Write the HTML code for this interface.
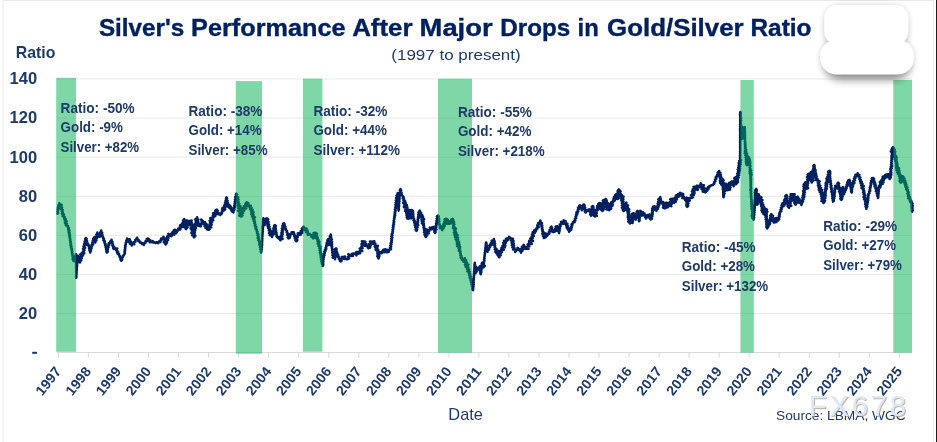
<!DOCTYPE html>
<html><head><meta charset="utf-8"><title>Silver's Performance After Major Drops in Gold/Silver Ratio</title>
<style>
html,body{margin:0;padding:0;background:#fff;}
body{width:937px;height:442px;overflow:hidden;font-family:"Liberation Sans",sans-serif;}
svg{display:block;font-family:"Liberation Sans",sans-serif;}
</style></head><body>
<svg width="937" height="442" viewBox="0 0 937 442">
<defs>
<filter id="sh" x="-30%" y="-30%" width="160%" height="170%"><feGaussianBlur in="SourceAlpha" stdDeviation="3" result="a0"/><feComponentTransfer in="a0" result="a"><feFuncA type="linear" slope="0.15"/></feComponentTransfer><feMerge><feMergeNode in="a"/><feMergeNode in="SourceGraphic"/></feMerge></filter>
<filter id="soft" x="-5%" y="-5%" width="110%" height="110%"><feGaussianBlur stdDeviation="0.35"/></filter>
<filter id="sb" x="-30%" y="-30%" width="160%" height="180%"><feGaussianBlur stdDeviation="4"/></filter>
</defs>
<rect x="0" y="0" width="937" height="442" fill="#ffffff"/>
<!-- frame -->
<rect x="2.6" y="0" width="931.4" height="1" fill="#e9e9e9"/>
<rect x="2.5" y="0" width="1.2" height="442" fill="#efefef"/>
<rect x="933" y="0" width="1" height="442" fill="#ececec"/>
<rect x="936" y="0" width="1" height="442" fill="#1e1e1e"/>
<!-- grid -->
<line x1="57" x2="912" y1="313.5" y2="313.5" stroke="#e9e9e9" stroke-width="1"/>
<line x1="57" x2="912" y1="274.4" y2="274.4" stroke="#e9e9e9" stroke-width="1"/>
<line x1="57" x2="912" y1="235.4" y2="235.4" stroke="#e9e9e9" stroke-width="1"/>
<line x1="57" x2="912" y1="196.3" y2="196.3" stroke="#e9e9e9" stroke-width="1"/>
<line x1="57" x2="912" y1="157.2" y2="157.2" stroke="#e9e9e9" stroke-width="1"/>
<line x1="57" x2="912" y1="118.1" y2="118.1" stroke="#e9e9e9" stroke-width="1"/>
<line x1="57" x2="912" y1="79.0" y2="79.0" stroke="#e9e9e9" stroke-width="1"/>
<line x1="57" x2="912" y1="352.5" y2="352.5" stroke="#d9d9d9" stroke-width="1"/>
<line x1="58.4" x2="58.4" y1="352" y2="357.5" stroke="#d9d9d9" stroke-width="1"/>
<line x1="88.4" x2="88.4" y1="352" y2="357.5" stroke="#d9d9d9" stroke-width="1"/>
<line x1="118.5" x2="118.5" y1="352" y2="357.5" stroke="#d9d9d9" stroke-width="1"/>
<line x1="148.5" x2="148.5" y1="352" y2="357.5" stroke="#d9d9d9" stroke-width="1"/>
<line x1="178.5" x2="178.5" y1="352" y2="357.5" stroke="#d9d9d9" stroke-width="1"/>
<line x1="208.6" x2="208.6" y1="352" y2="357.5" stroke="#d9d9d9" stroke-width="1"/>
<line x1="238.6" x2="238.6" y1="352" y2="357.5" stroke="#d9d9d9" stroke-width="1"/>
<line x1="268.6" x2="268.6" y1="352" y2="357.5" stroke="#d9d9d9" stroke-width="1"/>
<line x1="298.7" x2="298.7" y1="352" y2="357.5" stroke="#d9d9d9" stroke-width="1"/>
<line x1="328.7" x2="328.7" y1="352" y2="357.5" stroke="#d9d9d9" stroke-width="1"/>
<line x1="358.8" x2="358.8" y1="352" y2="357.5" stroke="#d9d9d9" stroke-width="1"/>
<line x1="388.8" x2="388.8" y1="352" y2="357.5" stroke="#d9d9d9" stroke-width="1"/>
<line x1="418.8" x2="418.8" y1="352" y2="357.5" stroke="#d9d9d9" stroke-width="1"/>
<line x1="448.9" x2="448.9" y1="352" y2="357.5" stroke="#d9d9d9" stroke-width="1"/>
<line x1="478.9" x2="478.9" y1="352" y2="357.5" stroke="#d9d9d9" stroke-width="1"/>
<line x1="508.9" x2="508.9" y1="352" y2="357.5" stroke="#d9d9d9" stroke-width="1"/>
<line x1="539.0" x2="539.0" y1="352" y2="357.5" stroke="#d9d9d9" stroke-width="1"/>
<line x1="569.0" x2="569.0" y1="352" y2="357.5" stroke="#d9d9d9" stroke-width="1"/>
<line x1="599.0" x2="599.0" y1="352" y2="357.5" stroke="#d9d9d9" stroke-width="1"/>
<line x1="629.1" x2="629.1" y1="352" y2="357.5" stroke="#d9d9d9" stroke-width="1"/>
<line x1="659.1" x2="659.1" y1="352" y2="357.5" stroke="#d9d9d9" stroke-width="1"/>
<line x1="689.1" x2="689.1" y1="352" y2="357.5" stroke="#d9d9d9" stroke-width="1"/>
<line x1="719.2" x2="719.2" y1="352" y2="357.5" stroke="#d9d9d9" stroke-width="1"/>
<line x1="749.2" x2="749.2" y1="352" y2="357.5" stroke="#d9d9d9" stroke-width="1"/>
<line x1="779.2" x2="779.2" y1="352" y2="357.5" stroke="#d9d9d9" stroke-width="1"/>
<line x1="809.3" x2="809.3" y1="352" y2="357.5" stroke="#d9d9d9" stroke-width="1"/>
<line x1="839.3" x2="839.3" y1="352" y2="357.5" stroke="#d9d9d9" stroke-width="1"/>
<line x1="869.3" x2="869.3" y1="352" y2="357.5" stroke="#d9d9d9" stroke-width="1"/>
<line x1="899.4" x2="899.4" y1="352" y2="357.5" stroke="#d9d9d9" stroke-width="1"/>

<!-- series -->
<path d="M57.6,213.6 L58.21,212.59 L57.55,211.44 L58.17,210.42 L57.71,209.29 L58.46,208.3 L57.99,207.17 L58.86,206.3 L58.42,205.13 L59.54,204.39 L59.4,203.3 L59.96,204.48 L61.65,204.87 L60.74,206.64 L62.0,207.57 L60.81,209.03 L62.67,209.83 L61.86,211.27 L62.83,212.31 L62.0,213.76 L63.87,214.56 L62.77,216.2 L64.74,216.91 L64.28,218.68 L65.68,219.08 L64.73,220.5 L66.48,221.27 L65.01,222.82 L66.81,223.63 L65.74,225.27 L67.97,225.9 L67.84,227.42 L68.84,228.14 L68.27,229.49 L69.45,230.42 L68.54,231.86 L69.53,232.73 L68.97,233.85 L69.92,234.81 L69.34,235.94 L70.0,236.93 L69.69,238.02 L70.24,239.18 L70.05,240.43 L70.66,241.57 L70.39,242.84 L71.06,243.96 L70.51,245.27 L71.37,246.39 L71.06,247.68 L71.94,248.79 L71.51,250.1 L72.18,251.24 L71.93,252.53 L72.51,253.54 L72.18,254.73 L73.35,255.62 L72.59,256.9 L73.6,257.82 L72.69,259.16 L75.03,259.26 L73.53,260.91 L75.61,261.15 L75.67,260.33 L75.29,259.07 L75.94,257.93 L75.57,256.67 L76.43,255.55 L76.1,254.3 L75.96,255.48 L76.2,256.65 L76.0,257.83 L76.2,259.0 L76.0,260.18 L76.22,261.35 L76.05,262.53 L76.22,263.7 L76.09,264.88 L76.29,266.05 L76.06,267.23 L76.21,268.4 L76.11,269.58 L76.22,270.75 L76.15,271.93 L76.25,273.1 L76.15,274.28 L76.22,275.45 L76.12,276.63 L76.2,277.8 L76.4,276.69 L76.28,275.57 L76.45,274.46 L76.43,273.34 L76.64,272.23 L76.46,271.1 L76.8,270.0 L76.6,268.87 L76.89,267.77 L76.81,266.64 L77.13,265.54 L76.81,264.4 L77.25,263.31 L77.05,262.07 L77.74,260.94 L77.32,259.66 L78.06,258.54 L77.73,257.27 L78.1,256.1 L78.68,257.15 L78.07,258.45 L79.2,259.39 L78.03,260.79 L80.38,261.01 L80.0,262.4 L78.97,261.14 L81.18,260.44 L80.11,259.17 L81.79,258.38 L79.97,256.99 L82.35,256.32 L80.22,254.32 L83.09,254.85 L81.89,252.87 L84.27,253.1 L83.07,251.22 L84.36,250.17 L83.12,248.74 L85.08,247.79 L83.53,246.31 L84.71,245.25 L84.11,243.9 L85.59,242.94 L84.71,241.52 L85.78,240.49 L85.2,239.13 L85.8,238.0 L86.63,238.96 L85.77,240.26 L87.04,241.12 L85.87,242.48 L87.64,243.25 L86.64,244.79 L88.65,244.8 L88.78,246.55 L89.62,247.19 L89.14,248.36 L90.08,249.28 L89.41,250.47 L90.54,251.36 L90.2,252.5 L90.15,251.36 L90.92,250.4 L90.63,249.21 L91.55,248.28 L91.07,247.05 L91.91,246.26 L91.52,245.03 L93.1,244.57 L92.22,243.15 L93.26,242.22 L92.74,241.01 L93.49,240.03 L93.1,238.85 L94.14,238.11 L94.5,237.1 L94.42,238.21 L95.09,239.22 L94.71,240.37 L95.58,241.35 L95.2,242.5 L95.33,241.23 L96.42,240.25 L95.96,238.8 L97.03,237.95 L96.04,236.69 L97.52,235.87 L96.46,234.6 L97.52,233.7 L97.4,232.6 L97.41,233.91 L98.77,234.8 L98.27,236.27 L99.94,236.68 L100.4,236.14 L99.43,234.82 L100.58,233.92 L100.26,232.74 L100.91,231.74 L101.18,230.63 L101.26,231.95 L102.22,232.88 L101.59,234.14 L102.52,235.07 L102.24,236.25 L103.08,237.01 L102.97,238.11 L103.97,238.75 L103.37,240.28 L104.73,241.18 L104.35,242.61 L105.44,243.62 L105.03,245.06 L106.22,246.06 L105.63,247.29 L106.3,248.26 L106.05,249.38 L106.87,250.32 L106.41,251.49 L106.8,252.5 L107.81,251.58 L106.9,250.27 L107.88,249.35 L107.3,248.1 L108.56,247.23 L107.46,245.63 L109.27,244.82 L108.67,243.3 L110.33,242.79 L110.2,241.41 L111.39,240.89 L111.5,239.8 L111.46,241.0 L112.52,241.93 L111.87,243.29 L113.02,244.2 L112.38,245.57 L113.6,246.49 L113.07,247.83 L113.7,248.9 L114.48,248.14 L113.93,246.57 L115.22,248.83 L117.25,248.5 L115.94,250.08 L117.24,250.6 L116.87,251.8 L118.22,252.3 L117.45,253.66 L119.02,254.07 L118.91,255.31 L119.87,255.96 L119.74,257.28 L121.04,258.06 L120.48,259.54 L121.3,260.6 L122.17,259.55 L121.55,258.05 L122.85,257.14 L122.75,255.98 L123.7,255.32 L124.4,254.06 L124.9,253.23 L124.52,252.1 L125.03,251.05 L124.74,249.93 L125.25,248.88 L125.02,247.77 L125.47,246.71 L125.09,245.58 L125.78,244.46 L125.67,243.17 L126.47,242.12 L126.32,240.82 L127.01,239.74 L127.1,238.5 L127.61,239.73 L129.77,239.39 L128.63,241.74 L131.03,241.59 L129.87,243.65 L131.93,243.16 L131.69,245.46 L133.0,243.4 L134.26,244.24 L133.74,242.32 L135.45,241.62 L135.17,240.17 L136.18,239.21 L136.94,237.74 L137.38,239.06 L138.47,239.77 L138.33,241.17 L139.89,241.55 L140.37,242.84 L141.82,242.72 L142.22,244.07 L143.37,243.77 L143.95,244.81 L144.12,243.07 L145.62,242.67 L145.52,241.26 L147.45,241.06 L146.59,239.25 L147.6,238.5 L148.68,238.94 L148.18,240.56 L150.3,240.22 L149.82,242.23 L151.44,241.75 L152.21,242.27 L152.77,241.14 L153.63,242.33 L154.82,242.4 L155.6,243.07 L156.5,242.22 L158.2,243.19 L158.83,241.61 L160.32,242.03 L160.26,240.45 L161.5,240.12 L161.12,238.59 L163.2,238.35 L163.5,236.8 L163.49,237.94 L164.74,238.55 L164.25,239.89 L165.58,240.75 L163.97,242.28 L166.71,242.97 L165.6,244.4 L165.0,242.89 L166.91,242.24 L166.03,240.64 L168.02,240.09 L166.32,238.5 L168.41,237.92 L167.23,236.48 L169.34,235.9 L168.32,233.84 L170.33,234.89 L171.3,233.51 L171.39,236.23 L172.33,233.94 L174.09,234.64 L172.48,232.39 L174.79,231.95 L173.68,230.51 L174.7,229.7 L176.23,230.48 L174.55,232.36 L175.9,233.2 L176.7,232.15 L176.58,230.63 L178.37,230.39 L178.28,228.61 L180.31,229.41 L179.9,226.85 L182.08,227.1 L180.22,225.16 L182.9,224.78 L183.34,225.19 L184.11,224.7 L182.37,223.26 L184.15,222.47 L183.1,221.16 L184.61,220.31 L184.1,219.1 L183.28,220.37 L185.31,221.12 L183.48,222.58 L185.54,223.31 L184.29,224.67 L186.33,225.41 L183.86,227.05 L187.04,227.7 L185.9,229.1 L185.25,227.57 L187.63,227.09 L185.63,225.1 L188.46,224.68 L186.73,223.03 L189.45,222.43 L186.32,220.46 L189.84,221.17 L191.62,220.51 L189.48,222.53 L191.72,222.74 L189.31,224.7 L192.82,224.84 L190.64,226.59 L193.46,226.93 L190.76,228.71 L193.16,229.28 L191.81,230.66 L193.23,231.44 L191.43,232.91 L193.96,233.63 L192.26,235.24 L195.35,235.85 L193.9,237.4 L193.76,236.17 L194.9,235.12 L194.08,233.79 L194.79,232.69 L194.3,231.41 L195.23,230.33 L194.87,229.07 L195.86,228.02 L194.49,226.61 L196.27,225.7 L194.77,224.27 L196.84,223.4 L195.68,222.02 L197.74,221.18 L195.16,219.46 L197.31,218.66 L197.1,217.4 L196.66,218.64 L198.23,219.61 L197.12,220.94 L198.29,221.96 L197.08,223.31 L199.17,223.85 L197.79,225.56 L199.59,226.01 L200.86,226.26 L200.82,224.21 L202.34,223.47 L201.59,222.01 L203.52,221.64 L201.1,219.62 L203.36,222.24 L205.06,222.23 L203.59,223.97 L206.43,223.93 L204.69,226.11 L207.81,225.33 L205.74,227.9 L208.14,227.55 L207.23,229.45 L208.8,229.7 L209.71,228.95 L208.91,227.48 L211.25,227.32 L209.38,225.44 L211.58,224.66 L209.86,223.08 L211.97,222.29 L209.73,220.6 L213.27,220.31 L210.3,217.99 L213.42,217.75 L212.88,215.63 L215.31,216.11 L213.11,213.34 L216.18,214.09 L215.04,212.02 L216.97,211.86 L215.43,210.39 L216.7,209.7 L217.66,210.7 L216.67,212.2 L218.6,212.94 L218.24,214.19 L219.76,213.86 L220.3,215.0 L221.2,213.94 L221.89,213.49 L221.51,212.26 L222.54,211.45 L222.09,210.21 L223.28,209.51 L222.33,208.16 L223.3,207.4 L224.46,208.12 L222.96,209.58 L224.1,210.3 L225.18,209.29 L224.12,207.85 L225.15,206.83 L224.3,205.42 L225.61,204.46 L225.01,203.15 L225.86,202.09 L225.57,200.84 L226.24,199.76 L226.04,198.52 L226.5,197.4 L227.06,198.51 L226.19,199.87 L227.53,200.85 L226.72,202.2 L227.82,203.06 L226.74,204.37 L228.93,204.97 L227.02,206.46 L230.33,205.97 L229.4,207.9 L228.82,206.98 L230.3,206.12 L228.91,204.65 L229.7,206.56 L231.37,207.42 L230.73,209.02 L231.88,209.71 L231.56,210.94 L232.6,211.65 L233.4,212.34 L233.43,210.54 L234.39,209.5 L233.9,208.13 L234.87,207.08 L234.3,205.88 L234.84,204.84 L234.57,203.71 L235.22,202.69 L234.8,201.54 L235.39,200.51 L235.16,199.39 L235.78,198.31 L235.23,197.02 L236.53,196.09 L235.88,194.78 L236.4,193.7 L237.07,194.88 L236.42,196.34 L238.13,197.3 L236.57,198.75 L238.43,199.59 L236.68,201.03 L238.6,201.86 L237.55,203.18 L239.3,204.04 L237.49,205.63 L240.4,206.19 L238.1,207.97 L241.11,208.5 L237.99,210.74 L241.13,211.14 L239.55,213.03 L241.57,213.83 L239.18,215.58 L241.3,216.5 L242.3,215.46 L240.6,213.96 L243.05,213.17 L241.11,211.63 L243.85,210.96 L241.38,208.79 L243.3,208.0 L245.16,208.19 L244.4,209.9 L243.83,208.58 L246.23,208.38 L243.93,206.41 L247.28,206.2 L245.4,204.47 L247.86,203.85 L246.7,202.3 L245.61,203.8 L248.45,203.77 L246.97,205.43 L248.1,203.0 L248.16,205.96 L250.8,205.7 L249.82,207.29 L251.49,207.71 L250.16,209.31 L252.55,209.87 L251.21,211.68 L253.51,212.35 L251.36,214.2 L253.66,214.94 L252.11,216.56 L254.92,217.17 L253.07,218.78 L254.37,219.7 L253.68,221.03 L255.02,221.94 L254.31,223.28 L255.46,224.35 L254.86,225.9 L256.28,226.86 L255.48,228.46 L256.85,229.44 L256.64,230.87 L257.48,231.9 L257.05,233.26 L258.31,234.19 L257.73,235.59 L258.59,236.59 L257.76,237.93 L259.02,238.87 L258.38,240.18 L259.74,241.09 L259.22,242.39 L259.96,243.42 L259.31,244.75 L260.78,245.63 L259.91,247.0 L261.05,247.98 L260.35,249.22 L261.15,250.28 L260.72,251.49 L261.1,252.6 L261.39,251.53 L261.17,250.41 L261.71,249.37 L261.38,248.24 L261.87,247.19 L261.48,246.05 L262.15,245.03 L261.82,243.88 L262.13,242.79 L261.93,241.67 L262.23,240.57 L262.1,239.45 L262.33,238.35 L262.05,237.23 L262.48,236.14 L262.15,235.01 L262.58,233.92 L262.43,232.8 L262.82,231.71 L262.51,230.58 L262.89,229.49 L262.54,228.36 L263.0,227.27 L262.72,226.15 L263.15,225.06 L262.93,223.93 L263.4,222.85 L262.93,221.71 L263.44,220.63 L263.25,219.5 L263.4,218.4 L264.02,219.45 L263.42,220.69 L264.2,221.71 L263.58,222.96 L264.79,223.91 L264.5,225.1 L263.87,223.51 L265.94,222.77 L264.8,221.02 L266.67,220.56 L265.46,219.0 L266.8,218.4 L268.14,219.37 L266.95,221.14 L268.58,222.02 L266.79,223.62 L268.99,224.37 L267.5,225.84 L269.52,226.64 L268.05,228.1 L270.14,228.93 L268.84,230.49 L271.2,231.21 L269.08,232.96 L271.16,233.39 L269.74,235.11 L272.25,235.14 L272.07,236.98 L271.66,235.02 L273.71,234.25 L272.47,232.67 L274.97,232.02 L273.12,230.47 L274.89,229.64 L273.42,228.26 L275.36,227.45 L274.08,226.11 L274.8,225.1 L275.87,226.04 L274.82,227.37 L275.79,228.33 L275.32,229.55 L276.08,230.55 L275.75,231.75 L276.52,232.78 L276.23,234.02 L276.87,235.08 L276.55,236.32 L277.39,237.34 L278.67,237.07 L279.42,237.06 L278.91,238.71 L280.88,238.81 L280.5,240.3 L279.41,238.72 L282.57,238.89 L280.98,237.1 L282.18,236.35 L281.26,235.17 L282.71,234.21 L281.45,233.0 L282.79,232.03 L281.81,230.84 L282.9,229.85 L281.92,228.51 L283.27,227.53 L282.45,226.18 L283.99,225.24 L282.95,223.93 L283.9,223.2 L284.57,224.28 L284.26,225.61 L285.36,226.58 L284.36,228.09 L285.92,228.69 L285.81,230.03 L287.03,230.93 L286.73,232.42 L287.84,233.46 L287.26,234.9 L288.53,235.87 L287.82,237.29 L288.5,238.4 L289.7,237.83 L289.38,236.38 L290.45,235.72 L290.02,234.41 L291.18,233.76 L291.67,232.41 L293.49,232.17 L293.87,232.51 L293.17,233.89 L294.53,234.48 L294.11,236.0 L295.23,237.05 L294.81,238.54 L296.1,239.16 L295.53,240.51 L296.5,241.2 L297.32,240.04 L296.03,238.49 L297.61,237.48 L296.73,235.86 L298.75,235.1 L297.81,233.41 L299.85,233.13 L301.13,233.0 L300.7,234.6 L300.47,233.2 L302.28,232.98 L300.81,231.04 L303.18,230.35 L301.94,228.62 L304.16,228.37 L303.53,226.64 L304.59,228.65 L306.46,228.51 L304.99,230.25 L307.46,230.36 L306.09,232.25 L308.01,232.4 L307.78,234.83 L310.19,234.17 L310.9,235.13 L311.85,235.33 L311.44,236.92 L313.16,237.16 L313.2,238.4 L312.28,236.89 L315.38,237.04 L313.04,234.94 L316.13,235.1 L313.54,233.01 L315.5,232.7 L316.85,233.74 L314.96,235.46 L317.13,236.32 L315.62,237.84 L317.66,238.12 L317.02,239.45 L318.46,240.0 L317.56,241.45 L319.42,241.85 L317.78,243.64 L319.5,244.45 L318.49,245.96 L320.52,246.69 L319.41,248.09 L320.68,249.03 L319.62,250.35 L320.77,251.31 L319.91,252.6 L321.14,253.54 L320.47,254.8 L321.92,255.67 L320.63,257.04 L322.21,257.89 L321.03,259.24 L322.73,260.07 L321.28,261.45 L323.04,262.39 L321.95,263.68 L323.21,264.68 L322.7,265.9 L322.58,264.79 L323.17,263.75 L322.77,262.61 L323.33,261.58 L322.97,260.44 L323.5,259.4 L323.24,258.27 L323.89,257.23 L323.65,256.06 L324.53,255.08 L323.85,253.84 L324.78,252.86 L324.31,251.65 L325.45,250.92 L324.99,249.6 L326.23,248.98 L325.72,247.6 L326.46,246.56 L326.28,245.35 L327.1,244.32 L326.62,243.05 L327.81,241.99 L327.33,240.48 L328.0,239.3 L328.54,240.39 L327.86,241.64 L328.71,242.69 L328.4,243.89 L328.8,245.0 L329.34,243.97 L328.91,242.8 L329.59,241.79 L329.0,240.59 L329.96,239.62 L329.5,238.45 L330.14,237.43 L329.86,236.38 L330.95,235.68 L330.7,234.6 L330.26,235.87 L331.19,237.0 L330.65,238.28 L331.82,239.4 L330.58,240.74 L332.07,241.82 L331.14,243.13 L332.12,244.23 L331.2,245.54 L332.17,246.63 L331.82,247.88 L332.41,249.01 L332.12,250.25 L332.67,251.39 L332.27,252.64 L333.41,253.68 L332.41,255.17 L334.13,256.04 L332.79,257.61 L334.85,258.02 L335.1,259.3 L334.97,258.19 L335.32,257.08 L334.85,255.97 L335.22,254.86 L334.91,253.74 L335.25,252.63 L334.98,251.52 L335.42,250.41 L334.96,249.3 L336.02,248.36 L336.54,249.08 L335.7,250.35 L336.71,251.19 L336.21,252.39 L337.43,253.18 L336.95,254.47 L338.2,255.17 L337.57,256.61 L339.02,257.23 L338.82,258.78 L340.33,259.23 L339.8,260.62 L340.6,261.5 L341.57,260.69 L340.87,259.23 L342.27,258.58 L341.85,257.07 L343.74,256.84 L344.94,256.57 L344.07,258.9 L346.33,258.9 L347.4,259.24 L348.79,258.34 L349.03,258.35 L347.98,256.78 L349.72,255.87 L348.35,254.22 L349.92,256.02 L351.9,256.04 L353.03,255.77 L351.62,254.03 L353.52,253.58 L354.69,253.65 L355.58,253.64 L356.37,254.08 L356.5,255.4 L355.57,254.01 L358.54,253.77 L356.39,252.03 L359.39,251.8 L360.06,250.91 L360.1,253.19 L359.71,250.94 L362.27,250.87 L359.72,248.57 L362.56,248.24 L361.45,246.74 L362.52,245.66 L361.54,244.18 L363.24,243.22 L361.93,241.34 L364.57,241.56 L365.35,241.69 L364.41,243.42 L366.29,243.95 L364.39,245.68 L368.09,245.63 L368.6,246.52 L369.36,245.62 L367.76,247.41 L368.7,248.2 L370.08,247.52 L368.16,245.86 L370.73,245.54 L369.21,243.99 L371.11,243.5 L370.06,241.51 L372.91,241.77 L374.36,241.29 L372.78,243.59 L375.3,243.65 L374.77,246.67 L377.84,245.82 L375.37,247.53 L377.49,248.08 L375.68,249.63 L378.34,250.04 L376.99,251.53 L378.34,252.51 L377.45,253.83 L378.75,254.81 L377.35,256.21 L378.78,257.18 L378.5,258.4 L377.98,257.09 L379.45,256.04 L378.15,254.63 L379.6,253.58 L377.89,252.11 L381.5,252.51 L381.94,251.8 L381.7,253.3 L381.27,251.92 L384.3,252.05 L383.0,250.3 L382.89,251.73 L384.2,252.3 L385.27,251.57 L383.47,249.69 L385.4,249.3 L386.47,250.03 L385.38,251.63 L386.6,252.3 L388.41,252.05 L387.11,249.79 L388.63,251.86 L389.51,249.35 L391.06,249.23 L389.98,247.92 L391.06,246.89 L390.32,245.62 L391.39,244.59 L390.67,243.33 L391.83,242.31 L391.26,241.07 L391.97,240.01 L391.27,238.78 L392.28,237.75 L391.43,236.5 L392.41,235.46 L391.73,234.23 L392.66,233.19 L392.35,232.01 L392.93,230.93 L392.59,229.73 L393.28,228.67 L392.87,227.47 L393.58,226.41 L393.1,225.19 L393.9,224.14 L393.5,222.94 L394.19,221.88 L393.68,220.66 L394.3,219.6 L394.1,218.44 L394.63,217.36 L394.3,216.18 L395.14,215.15 L394.59,213.94 L395.26,212.88 L394.82,211.69 L395.61,210.65 L394.91,209.42 L396.0,208.4 L395.34,207.17 L396.19,206.12 L395.51,204.89 L396.3,203.83 L395.64,202.61 L396.75,201.59 L395.87,200.34 L397.67,199.38 L396.13,197.89 L397.61,196.9 L396.59,195.5 L398.04,194.51 L397.6,193.2 L397.49,194.37 L398.04,195.5 L397.53,196.7 L398.07,197.83 L397.67,199.02 L398.27,200.14 L397.85,201.33 L398.31,202.47 L398.02,203.65 L398.46,204.79 L398.03,205.98 L398.66,207.1 L398.2,208.3 L398.8,209.42 L398.6,210.6 L398.44,209.42 L398.92,208.28 L398.6,207.09 L399.09,205.95 L398.78,204.76 L399.19,203.62 L399.01,202.44 L399.41,201.3 L399.09,200.11 L399.51,198.97 L399.33,197.78 L399.63,196.63 L399.5,195.46 L399.8,194.31 L399.42,192.95 L400.66,191.84 L399.85,190.4 L400.5,189.2 L401.08,190.35 L400.66,191.7 L401.53,192.8 L401.25,194.12 L402.08,195.23 L402.76,196.46 L403.57,197.22 L402.77,198.48 L404.11,199.25 L403.55,200.45 L405.15,201.15 L403.19,202.82 L405.65,203.16 L404.03,204.81 L406.83,205.05 L403.91,206.93 L407.39,207.19 L405.07,208.81 L407.79,209.24 L405.29,210.91 L407.15,211.66 L406.21,212.84 L407.16,213.88 L406.47,215.04 L407.16,216.09 L406.84,217.22 L407.2,218.3 L407.63,217.11 L407.16,215.85 L407.81,214.68 L407.26,213.41 L407.92,212.24 L407.8,211.0 L407.64,212.12 L408.19,213.18 L407.79,214.32 L408.49,215.37 L408.08,216.51 L408.49,217.59 L408.4,218.7 L408.15,217.45 L408.95,216.27 L407.93,214.96 L409.17,213.82 L408.42,212.53 L409.17,211.35 L409.0,210.1 L408.55,211.31 L409.61,212.41 L409.06,213.63 L409.54,214.77 L409.26,215.97 L409.72,217.11 L409.6,218.3 L409.25,217.16 L410.1,216.13 L409.6,214.97 L410.31,213.93 L409.8,212.77 L410.43,211.72 L410.3,210.6 L410.08,211.72 L410.86,212.77 L410.07,213.94 L411.17,214.96 L410.23,216.14 L411.23,217.17 L410.9,218.3 L410.7,217.11 L411.22,215.97 L410.94,214.77 L411.38,213.62 L411.11,212.43 L411.7,211.29 L411.5,210.1 L411.39,211.2 L411.95,212.25 L411.65,213.37 L412.12,214.42 L411.45,215.57 L412.23,216.6 L412.1,217.7 L412.01,216.5 L412.65,215.36 L412.15,214.13 L412.66,212.98 L412.27,211.76 L412.7,210.6 L413.02,211.76 L412.64,212.99 L413.31,214.12 L412.78,215.36 L413.41,216.5 L413.14,217.71 L414.19,218.98 L413.55,220.36 L414.99,221.25 L414.28,222.59 L415.73,223.48 L414.78,224.87 L415.68,225.95 L415.22,227.33 L416.31,228.37 L415.77,229.76 L416.4,230.9 L417.14,229.81 L416.3,228.45 L417.51,227.44 L416.54,226.05 L418.16,225.11 L416.97,223.69 L417.95,222.71 L417.58,221.53 L418.24,220.47 L417.66,219.27 L418.55,218.24 L417.96,217.04 L418.96,216.02 L418.22,214.8 L418.99,213.75 L418.5,212.57 L420.26,212.02 L419.6,210.6 L419.17,212.05 L421.22,212.85 L419.4,214.66 L422.45,215.2 L420.25,217.04 L423.07,217.13 L421.49,218.94 L424.06,219.24 L421.71,221.04 L423.67,221.58 L421.91,223.21 L423.94,223.89 L423.21,225.18 L424.13,226.22 L423.51,227.5 L424.61,228.52 L423.96,229.8 L425.14,230.81 L424.08,232.25 L425.4,233.26 L424.56,234.69 L426.57,235.56 L425.7,237.0 L425.06,235.53 L427.21,235.28 L426.09,233.61 L428.72,233.39 L426.61,231.66 L429.12,231.28 L426.6,229.43 L428.76,231.67 L429.19,229.66 L431.07,229.25 L429.86,227.6 L431.56,229.34 L431.92,227.55 L433.34,227.04 L434.54,227.61 L433.56,229.32 L435.06,230.39 L434.38,231.81 L435.1,233.0 L435.56,231.82 L434.88,230.49 L436.39,229.45 L435.15,228.04 L436.4,226.97 L435.76,225.68 L436.64,224.62 L436.1,223.33 L437.01,222.27 L436.5,220.99 L437.24,219.91 L436.72,218.62 L438.54,217.94 L437.0,216.44 L438.0,215.6 L438.77,216.68 L438.03,217.99 L439.17,219.02 L438.33,220.34 L439.33,221.39 L438.61,222.69 L439.39,223.77 L439.47,225.22 L439.35,224.31 L439.95,225.63 L441.67,226.4 L439.94,228.04 L442.6,228.36 L442.2,230.1 L442.3,228.81 L443.71,228.07 L443.12,226.5 L444.75,225.82 L443.43,224.18 L445.42,223.56 L444.17,221.94 L446.24,221.37 L444.58,219.44 L446.3,218.8 L447.7,219.6 L445.39,221.55 L448.1,221.94 L446.74,223.6 L449.68,223.59 L450.12,223.53 L449.28,221.87 L450.4,221.0 L451.66,221.81 L451.7,223.3 L450.82,221.92 L453.46,221.33 L451.31,219.67 L452.7,218.8 L453.23,219.87 L452.68,221.12 L454.04,222.06 L453.03,223.38 L454.27,224.34 L453.19,225.67 L454.32,226.65 L453.09,228.12 L455.93,228.6 L454.16,230.23 L455.66,231.05 L454.01,232.65 L456.5,233.25 L454.53,234.9 L457.65,235.39 L455.07,237.17 L457.98,237.71 L455.68,239.46 L458.11,240.07 L456.74,241.62 L459.18,242.23 L457.0,243.97 L459.56,244.54 L457.14,246.28 L460.13,246.77 L458.66,248.29 L459.99,249.16 L458.91,250.63 L460.39,251.48 L460.05,252.77 L460.76,253.8 L460.37,255.11 L461.4,256.05 L460.67,257.51 L462.21,258.26 L461.81,259.62 L463.37,260.36 L463.5,261.8 L463.21,260.35 L464.98,259.76 L464.9,258.4 L464.72,259.67 L466.1,260.49 L465.32,261.94 L466.91,262.7 L465.09,264.48 L468.38,264.69 L465.65,266.77 L468.28,267.19 L467.08,268.81 L469.24,269.41 L467.44,271.22 L469.81,271.75 L468.89,273.21 L470.16,274.09 L469.27,275.48 L470.86,276.29 L469.76,277.73 L471.29,278.56 L470.5,279.97 L471.5,280.93 L471.01,282.26 L472.44,283.12 L471.47,284.52 L472.5,285.5 L472.09,286.75 L472.95,287.76 L472.3,289.06 L473.0,290.1 L473.21,288.98 L472.92,287.82 L473.56,286.72 L473.0,285.55 L473.74,284.46 L473.27,283.29 L473.73,282.18 L473.22,281.01 L473.81,279.91 L473.52,278.75 L474.01,277.65 L473.78,276.49 L474.13,275.38 L473.83,274.22 L474.25,273.11 L474.0,271.95 L474.4,270.84 L474.29,269.7 L474.54,268.57 L474.39,267.43 L474.66,266.31 L474.54,265.16 L474.81,264.04 L474.8,262.9 L474.72,264.05 L475.2,265.15 L474.8,266.33 L475.46,267.41 L474.82,268.61 L475.86,269.66 L475.23,270.86 L476.17,271.92 L475.7,273.1 L475.16,271.76 L476.91,270.98 L475.36,269.39 L477.69,268.75 L476.2,267.18 L477.38,268.49 L479.14,267.85 L479.73,267.78 L479.8,266.3 L479.28,267.5 L480.66,268.49 L479.36,269.78 L480.88,270.75 L480.05,271.99 L481.06,273.02 L480.7,274.2 L480.42,273.02 L481.32,271.98 L480.74,270.76 L481.56,269.72 L481.23,268.53 L481.69,267.44 L481.43,266.26 L482.0,265.18 L481.64,263.99 L482.1,262.9 L483.46,263.73 L481.7,265.45 L484.85,265.76 L483.4,267.4 L483.21,266.24 L484.01,265.19 L483.5,264.0 L484.03,262.92 L483.76,261.75 L484.38,260.68 L484.08,259.51 L484.51,258.42 L484.32,257.26 L484.65,256.16 L484.61,255.02 L484.96,253.92 L484.76,252.74 L485.2,251.63 L485.07,250.46 L485.61,249.37 L485.32,248.18 L485.75,247.07 L485.68,245.91 L486.07,244.8 L485.81,243.61 L486.2,242.5 L486.5,243.62 L486.38,244.8 L486.82,245.89 L486.71,247.07 L487.22,248.16 L487.08,249.34 L487.55,250.43 L487.5,251.6 L487.55,250.3 L488.92,249.54 L488.13,247.88 L490.0,247.31 L489.34,245.41 L491.53,245.2 L490.7,243.13 L492.82,242.87 L491.72,240.73 L494.09,240.55 L493.9,239.1 L493.53,240.3 L494.69,241.3 L493.96,242.55 L495.02,243.56 L494.15,244.83 L495.07,245.86 L494.68,247.06 L495.54,248.11 L494.77,249.36 L496.57,249.11 L495.39,251.92 L498.47,250.88 L496.61,253.46 L499.81,253.34 L497.76,255.21 L499.8,255.81 L499.3,257.2 L498.25,255.77 L500.76,255.18 L499.09,253.61 L501.04,252.88 L499.75,251.4 L501.96,251.9 L501.12,249.38 L503.77,249.78 L501.52,247.84 L504.76,247.57 L502.57,245.65 L505.39,245.59 L503.23,242.83 L505.86,242.85 L504.08,240.79 L506.91,240.63 L506.07,238.77 L508.09,238.39 L509.1,237.28 L508.34,239.68 L509.19,236.93 L511.5,238.67 L512.92,238.86 L511.14,240.51 L513.51,241.13 L511.75,242.77 L513.76,243.49 L511.85,245.12 L514.02,245.8 L512.4,247.36 L514.42,248.07 L513.2,249.53 L515.92,249.83 L515.11,251.9 L516.57,250.11 L517.94,249.56 L517.66,247.81 L518.53,249.35 L519.88,249.07 L519.62,250.63 L521.08,251.37 L521.0,252.7 L520.64,251.22 L522.53,250.68 L521.38,248.88 L523.71,248.46 L521.99,246.74 L523.96,246.09 L523.7,244.8 L523.23,246.32 L525.5,246.71 L523.96,248.67 L526.99,248.6 L528.51,248.84 L526.73,246.79 L529.29,246.51 L527.85,244.38 L529.89,244.14 L529.08,242.26 L531.75,243.86 L529.32,240.69 L533.02,240.89 L530.42,238.49 L532.72,238.08 L531.57,236.69 L533.75,235.93 L532.1,234.44 L533.79,233.59 L532.69,232.2 L534.77,232.86 L534.09,230.55 L535.78,231.25 L535.45,229.41 L537.13,229.22 L536.88,227.56 L538.82,227.04 L537.31,225.33 L538.9,224.6 L538.11,223.12 L540.64,222.95 L540.26,220.52 L540.45,222.26 L541.9,223.18 L540.84,224.54 L542.27,225.47 L541.57,226.77 L542.4,227.81 L541.94,229.06 L542.85,230.07 L542.37,231.31 L543.58,232.27 L542.32,233.63 L543.78,234.55 L543.02,235.84 L544.47,236.76 L543.83,238.05 L545.73,237.08 L545.95,236.72 L544.15,235.38 L546.64,235.11 L544.33,233.24 L547.46,233.97 L547.69,233.95 L547.05,235.63 L548.12,234.18 L549.41,233.57 L548.92,231.96 L550.23,231.29 L549.65,230.0 L551.13,229.31 L550.49,227.73 L551.4,226.7 L552.09,227.91 L551.42,229.43 L552.81,230.48 L552.35,231.68 L553.56,232.04 L554.55,231.8 L553.92,230.13 L556.32,230.65 L555.13,228.73 L556.36,227.92 L555.69,226.59 L557.38,226.25 L558.04,226.94 L556.7,228.41 L558.2,229.34 L557.53,230.69 L559.16,231.52 L559.0,233.0 L558.79,231.77 L559.63,230.67 L558.95,229.39 L560.02,228.32 L559.22,227.02 L560.61,225.99 L559.79,224.45 L561.82,223.88 L561.06,221.86 L563.31,222.54 L563.7,220.37 L563.92,223.68 L565.6,221.08 L565.56,223.84 L567.43,223.78 L566.24,225.55 L568.12,226.17 L566.78,227.7 L568.36,228.36 L567.9,229.65 L569.06,230.42 L569.09,231.75 L570.19,230.34 L571.26,229.73 L570.23,228.31 L571.8,227.65 L571.32,226.44 L572.18,225.59 L571.53,224.37 L572.84,223.64 L572.89,222.35 L574.53,222.32 L574.23,220.9 L575.29,220.52 L574.88,219.1 L576.1,218.1 L575.6,216.75 L576.63,215.71 L576.11,214.45 L577.44,213.67 L576.52,212.26 L578.19,211.55 L577.73,209.98 L578.77,209.17 L578.02,207.8 L579.25,207.0 L579.11,205.92 L579.9,205.3 L580.91,206.29 L580.49,207.82 L581.68,208.74 L581.8,210.1 L581.53,208.99 L582.61,208.18 L581.84,206.96 L583.14,206.2 L582.96,205.15 L583.7,204.5 L584.57,205.41 L583.8,206.77 L585.04,207.58 L584.08,209.04 L585.57,209.95 L584.75,211.35 L585.6,212.4 L586.4,211.39 L586.08,209.94 L587.96,209.88 L588.49,209.8 L588.4,210.9 L588.41,209.8 L589.4,209.3 L590.13,210.39 L590.09,211.78 L591.2,212.88 L590.29,214.39 L591.0,215.6 L592.26,214.68 L590.61,213.28 L592.06,212.39 L591.38,211.15 L592.61,210.22 L591.78,209.01 L593.12,208.28 L591.77,206.88 L592.9,206.1 L593.42,207.17 L592.85,208.41 L593.73,209.41 L592.97,210.68 L594.16,211.64 L593.59,212.97 L595.12,213.87 L593.73,215.4 L594.8,216.4 L596.77,215.8 L593.61,213.76 L596.75,213.5 L594.56,211.87 L596.97,211.45 L595.19,209.95 L598.21,209.69 L597.12,207.96 L599.52,208.59 L597.2,206.03 L599.92,205.83 L598.18,204.06 L599.5,203.0 L601.22,203.59 L598.63,205.56 L601.85,205.66 L600.25,207.29 L602.22,207.24 L600.78,209.06 L603.61,209.35 L602.4,210.9 L600.98,209.52 L603.82,208.83 L602.31,207.44 L603.9,206.55 L601.94,205.08 L604.41,204.36 L603.04,202.98 L605.02,202.2 L602.77,200.66 L604.3,199.8 L605.26,200.81 L605.2,202.2 L604.38,200.94 L606.49,200.23 L605.8,199.0 L605.48,200.13 L606.7,201.01 L605.07,202.35 L607.67,203.01 L606.13,204.33 L607.93,205.12 L605.65,206.76 L608.09,207.54 L606.2,209.14 L608.96,209.86 L609.38,210.15 L608.35,208.05 L611.2,208.6 L608.85,205.98 L612.38,206.04 L609.9,203.85 L612.89,204.48 L611.23,202.21 L613.31,201.75 L613.02,200.17 L614.84,200.35 L613.64,198.32 L616.08,198.64 L614.16,196.85 L616.56,196.39 L615.25,195.0 L616.3,194.2 L616.73,195.22 L616.18,196.43 L617.24,197.34 L616.64,198.47 L617.6,199.0 L618.13,197.85 L617.36,196.6 L618.57,195.51 L617.31,194.21 L618.52,193.12 L617.69,191.86 L620.27,191.14 L618.8,189.5 L617.76,190.95 L620.61,191.57 L617.91,193.37 L620.89,193.97 L618.92,195.9 L620.7,196.6 L622.54,196.64 L621.7,195.0 L620.23,196.38 L623.54,196.86 L620.68,198.5 L623.37,199.3 L621.46,200.65 L623.5,201.67 L621.9,203.0 L623.5,204.06 L622.02,205.37 L623.84,206.32 L621.96,207.69 L624.37,208.53 L622.85,209.86 L623.6,210.9 L624.81,210.12 L622.74,208.61 L625.86,208.26 L623.44,206.66 L626.26,206.28 L623.83,204.35 L626.11,203.89 L626.4,202.66 L625.61,204.96 L628.0,205.43 L626.33,206.91 L627.84,207.59 L626.65,208.92 L629.22,209.39 L627.28,210.88 L629.28,211.48 L627.69,212.83 L629.0,213.75 L627.94,214.93 L629.84,215.78 L627.78,217.07 L629.49,217.95 L628.32,219.24 L630.84,219.96 L628.22,221.52 L630.87,222.21 L629.9,223.5 L629.34,222.04 L632.58,222.95 L630.57,220.68 L632.98,221.11 L631.41,219.07 L633.56,218.26 L630.83,216.44 L633.61,215.77 L631.92,213.9 L633.7,213.2 L634.98,214.19 L632.67,215.92 L635.14,216.66 L633.2,218.31 L635.86,218.4 L635.6,219.6 L635.3,218.48 L636.6,217.72 L635.88,216.51 L636.73,215.65 L635.78,214.22 L637.62,213.38 L636.68,211.95 L637.5,210.9 L638.54,211.82 L638.0,213.36 L638.98,214.3 L638.2,215.52 L639.07,216.6 L638.28,217.82 L639.41,218.87 L638.67,220.09 L639.1,221.2 L639.67,220.1 L638.95,218.88 L639.7,217.79 L639.13,216.59 L639.78,215.49 L639.6,214.32 L639.97,213.2 L639.78,212.03 L640.24,210.92 L641.29,211.34 L640.75,213.13 L641.92,214.23 L641.9,215.6 L641.28,214.23 L643.19,213.66 L642.9,212.4 L642.72,213.56 L644.49,213.61 L643.59,215.25 L645.57,215.12 L645.15,217.01 L647.52,216.37 L645.92,218.49 L646.83,216.33 L649.03,216.98 L647.81,215.1 L650.45,215.59 L649.6,214.48 L649.8,215.93 L650.92,216.97 L649.79,218.33 L650.7,219.4 L651.99,218.59 L651.0,216.79 L652.37,216.11 L651.62,214.91 L652.7,213.98 L651.92,212.78 L652.8,211.82 L652.17,210.64 L653.77,209.96 L652.18,208.51 L653.87,207.91 L653.04,206.66 L654.75,206.28 L655.41,206.97 L654.77,208.62 L656.63,209.24 L656.4,210.7 L656.21,209.47 L657.84,208.81 L656.28,207.15 L658.45,207.11 L657.77,205.68 L659.2,205.16 L657.71,203.73 L660.25,203.3 L658.13,201.71 L661.16,201.11 L658.29,199.33 L660.56,198.51 L660.2,197.2 L659.88,198.41 L660.86,199.39 L660.15,200.68 L661.45,201.6 L660.84,202.86 L662.76,202.85 L663.45,203.33 L663.1,202.0 L662.02,203.46 L664.52,203.9 L663.21,205.42 L665.2,206.01 L663.08,207.58 L664.7,208.3 L666.73,207.4 L664.51,205.52 L666.71,204.66 L665.14,203.0 L666.6,202.8 L668.48,203.46 L665.95,205.78 L669.19,205.26 L667.88,207.19 L669.4,205.44 L671.25,206.16 L668.91,203.78 L671.85,203.66 L669.86,201.95 L672.92,201.66 L670.19,199.33 L672.3,198.8 L674.43,198.65 L672.44,200.83 L674.89,201.1 L674.2,202.8 L673.82,201.53 L675.84,201.62 L674.65,199.89 L676.86,199.41 L674.89,197.62 L677.44,197.2 L676.03,195.32 L678.87,195.75 L678.0,194.1 L677.13,195.79 L678.9,196.5 L679.67,195.87 L679.65,194.75 L681.13,194.54 L680.05,192.88 L681.8,193.81 L683.21,194.14 L682.15,195.91 L683.72,196.51 L682.35,198.09 L684.71,198.47 L685.12,198.59 L686.57,197.59 L685.18,200.09 L687.41,199.89 L686.4,201.49 L686.96,202.51 L686.65,203.62 L687.18,204.64 L686.45,205.8 L687.2,206.8 L688.11,205.81 L686.48,204.58 L688.3,203.67 L687.12,202.49 L688.59,201.55 L687.07,200.33 L689.75,200.44 L687.56,198.16 L688.83,200.69 L689.41,198.12 L692.2,197.8 L692.43,196.96 L692.95,197.2 L690.96,195.1 L693.94,195.0 L692.27,193.52 L694.55,193.03 L692.02,191.33 L694.53,190.84 L692.78,189.2 L695.54,188.82 L693.56,186.87 L695.4,186.9 L697.02,187.59 L695.29,189.23 L697.58,189.74 L697.72,189.83 L696.37,187.89 L699.0,187.48 L696.86,185.72 L698.9,187.28 L699.33,185.59 L700.69,184.81 L700.75,183.41 L701.67,185.14 L703.89,185.2 L700.88,187.2 L703.92,187.43 L701.7,189.22 L704.28,189.94 L702.83,191.49 L705.66,192.16 L705.46,192.33 L704.82,189.55 L707.27,190.63 L706.04,188.51 L708.49,188.93 L708.18,187.11 L709.43,187.04 L709.5,185.98 L710.82,185.69 L711.6,185.19 L712.85,185.0 L713.5,184.07 L714.38,183.56 L714.11,182.09 L715.45,181.23 L714.98,179.62 L716.31,178.77 L715.72,177.18 L717.21,176.43 L716.97,174.96 L718.22,174.08 L717.65,172.49 L718.9,172.03 L719.2,171.1 L718.78,172.24 L720.42,172.93 L719.22,174.25 L720.83,174.94 L719.27,176.32 L721.27,177.19 L720.1,178.45 L721.32,179.42 L719.91,180.71 L721.38,181.54 L720.16,182.74 L721.8,183.52 L721.4,184.6 L721.02,183.39 L722.93,182.55 L720.92,181.08 L723.57,180.35 L722.3,179.0 L721.7,180.15 L723.23,181.06 L721.99,182.27 L724.01,183.13 L721.73,184.46 L724.1,185.28 L722.68,186.6 L723.32,187.75 L722.8,188.96 L723.5,190.11 L723.18,191.31 L723.52,192.47 L723.25,193.67 L723.58,194.83 L723.29,196.03 L723.6,197.2 L723.98,196.04 L723.27,194.79 L724.45,193.7 L723.31,192.41 L724.71,191.33 L723.48,190.04 L725.15,189.23 L723.98,188.0 L725.44,187.22 L724.9,186.1 L723.89,187.44 L726.66,188.32 L723.91,189.88 L725.5,190.9 L725.95,189.75 L725.37,188.51 L726.17,187.38 L725.27,186.11 L726.61,185.04 L726.1,183.8 L725.92,185.02 L727.92,184.89 L726.42,186.75 L728.89,187.49 L726.65,189.14 L728.0,190.1 L730.03,189.56 L727.74,187.68 L730.5,187.37 L728.45,185.4 L731.25,184.68 L729.1,182.82 L730.1,184.8 L730.76,182.38 L731.8,181.4 L733.68,182.02 L731.97,184.15 L733.94,184.68 L733.7,186.1 L732.92,184.39 L735.77,184.26 L733.75,182.58 L735.69,181.76 L734.36,180.49 L735.95,179.62 L734.36,178.31 L735.6,177.4 L736.87,178.34 L735.16,179.61 L736.77,180.51 L735.28,181.75 L737.43,182.6 L736.3,183.8 L734.74,182.4 L737.95,181.9 L736.06,180.44 L737.87,179.73 L736.87,178.25 L738.65,177.63 L737.05,176.1 L739.16,175.17 L737.24,173.73 L739.29,172.8 L737.97,171.57 L739.87,170.68 L737.77,169.4 L739.97,168.53 L738.28,167.3 L740.06,166.39 L738.7,165.16 L740.64,164.39 L738.73,163.01 L740.63,162.24 L739.23,160.94 L740.88,160.12 L741.0,160.41 L740.32,159.36 L740.03,158.23 L740.28,157.09 L739.98,155.96 L740.3,154.82 L740.03,153.69 L740.25,152.55 L740.07,151.41 L740.36,150.28 L740.09,149.14 L740.29,148.01 L740.06,146.87 L740.29,145.74 L740.13,144.6 L740.28,143.47 L740.06,142.34 L740.27,141.21 L740.12,140.09 L740.31,138.96 L740.05,137.83 L740.28,136.7 L740.09,135.57 L740.3,134.44 L740.15,133.31 L740.28,132.19 L740.05,131.06 L740.28,129.93 L740.06,128.8 L740.31,127.69 L740.04,126.57 L740.38,125.46 L740.08,124.34 L740.36,123.23 L740.19,122.12 L740.41,121.01 L740.16,119.89 L740.57,118.78 L740.23,117.67 L740.54,116.56 L740.17,115.44 L740.55,114.33 L740.14,113.21 L740.4,112.1 L740.9,113.27 L740.04,114.49 L740.72,115.66 L740.27,116.87 L741.12,118.03 L740.26,119.25 L741.12,120.42 L740.36,121.63 L740.94,122.8 L740.48,124.01 L741.18,125.15 L740.73,126.33 L741.08,127.48 L740.85,128.65 L741.33,129.8 L740.94,130.98 L741.42,132.12 L740.94,133.31 L741.53,134.44 L741.11,135.63 L741.49,136.77 L741.28,137.95 L741.5,139.1 L742.01,138.04 L741.32,136.9 L742.11,135.86 L741.55,134.73 L742.14,133.68 L741.73,132.56 L742.35,131.51 L741.83,130.38 L742.71,129.41 L741.99,128.17 L742.7,127.2 L742.98,128.3 L742.61,129.43 L743.23,130.51 L742.76,131.65 L743.2,132.74 L743.02,133.87 L743.47,134.95 L742.88,136.1 L743.72,137.17 L743.4,138.3 L743.07,137.09 L743.77,135.94 L743.43,134.73 L743.9,133.56 L743.55,132.35 L744.15,131.19 L743.8,129.98 L744.3,128.82 L743.86,127.79 L744.7,127.2 L744.82,128.39 L744.64,129.59 L744.88,130.77 L744.74,131.97 L744.88,133.16 L744.74,134.35 L744.99,135.54 L744.81,136.74 L745.02,137.92 L744.89,139.12 L745.05,140.31 L744.82,141.5 L745.32,142.67 L744.85,143.89 L745.47,145.05 L744.98,146.27 L745.63,147.42 L745.01,148.65 L746.15,149.77 L744.94,151.04 L746.27,152.0 L744.75,153.2 L746.98,154.05 L745.48,155.25 L747.0,156.16 L745.69,157.35 L746.83,158.38 L745.96,159.6 L747.01,160.64 L745.91,161.88 L747.04,162.91 L746.31,164.11 L746.9,165.2 L747.73,164.22 L746.38,163.03 L747.83,162.11 L746.81,160.95 L748.27,160.03 L746.5,158.8 L749.04,158.01 L748.1,156.5 L747.88,157.66 L748.49,158.74 L748.23,159.9 L748.78,160.99 L748.06,162.19 L749.23,163.22 L748.8,164.4 L747.88,163.19 L750.13,162.32 L748.25,161.0 L749.8,160.06 L749.4,158.9 L749.24,160.1 L749.97,161.25 L749.26,162.49 L750.21,163.62 L749.36,164.86 L750.37,165.99 L749.64,167.23 L750.4,168.37 L749.73,169.49 L751.16,170.4 L749.69,171.62 L751.19,172.52 L749.79,173.74 L751.55,174.61 L750.39,175.86 L750.94,177.02 L750.41,178.19 L751.21,179.35 L750.49,180.51 L751.03,181.67 L750.54,182.84 L750.94,184.0 L750.55,185.19 L750.95,186.37 L750.71,187.57 L751.17,188.74 L750.38,189.95 L751.18,191.12 L750.71,192.32 L751.3,193.49 L750.89,194.7 L751.28,195.87 L750.95,197.08 L751.47,198.24 L751.18,199.45 L751.82,200.6 L751.25,201.83 L751.89,202.98 L751.32,204.18 L752.24,205.25 L751.31,206.48 L752.21,207.55 L751.54,208.76 L752.62,209.82 L752.01,211.03 L753.02,212.1 L752.06,213.42 L753.41,214.44 L751.73,215.85 L753.89,216.57 L752.35,217.83 L753.67,218.65 L753.5,219.7 L753.16,218.46 L754.11,217.34 L753.67,216.08 L754.27,214.93 L753.93,213.69 L754.5,212.53 L754.14,211.3 L754.65,210.14 L754.32,208.93 L754.79,207.77 L754.33,206.55 L755.0,205.4 L754.37,204.16 L755.2,203.03 L754.49,201.84 L755.12,200.72 L754.77,199.55 L755.42,198.44 L754.84,197.26 L755.54,196.15 L754.94,194.97 L755.62,193.85 L754.85,192.67 L755.74,191.56 L755.07,190.38 L756.76,190.04 L756.1,188.8 L755.89,189.96 L756.67,191.06 L755.87,192.26 L756.71,193.36 L756.12,194.54 L756.83,195.65 L756.23,196.83 L756.88,197.94 L756.26,199.13 L757.76,200.1 L756.35,201.36 L757.9,202.31 L756.38,203.59 L757.3,204.6 L757.96,203.52 L757.08,202.31 L758.23,201.27 L757.26,200.05 L758.12,198.99 L757.69,197.81 L758.14,196.71 L757.65,195.34 L758.6,194.3 L758.88,195.35 L757.98,196.51 L759.72,197.42 L758.22,198.64 L760.25,199.53 L759.2,200.7 L757.67,199.4 L760.78,198.91 L757.98,197.4 L759.9,196.7 L761.39,197.51 L760.0,199.4 L762.39,199.99 L759.93,201.74 L762.38,202.45 L760.74,204.03 L763.21,204.53 L761.21,206.03 L763.98,206.46 L761.75,208.01 L764.08,208.52 L761.51,210.22 L764.38,210.57 L762.35,212.14 L765.16,211.94 L763.52,213.95 L763.64,211.96 L766.07,211.12 L764.33,209.66 L765.3,208.6 L766.77,209.55 L764.23,210.94 L767.37,211.71 L765.01,213.08 L766.72,214.01 L764.97,215.26 L766.85,216.16 L765.65,217.35 L766.95,218.31 L765.8,219.49 L767.4,220.42 L766.14,221.67 L767.48,222.69 L766.27,223.93 L767.23,224.99 L766.38,226.2 L767.89,227.2 L767.2,228.4 L766.44,227.15 L768.39,226.42 L767.08,225.06 L768.67,224.15 L766.82,222.58 L769.65,221.9 L768.7,220.5 L767.99,221.72 L769.96,222.25 L768.57,223.65 L769.7,224.4 L770.09,223.34 L769.51,222.18 L770.43,221.18 L769.95,220.03 L770.56,218.99 L770.17,217.85 L771.02,216.84 L770.32,215.67 L771.96,215.34 L771.3,214.1 L770.65,215.3 L773.08,215.8 L770.69,217.39 L773.22,217.87 L771.54,219.62 L774.0,219.2 L772.81,220.97 L775.6,220.46 L773.83,222.56 L776.26,222.03 L776.02,221.95 L774.79,220.47 L776.86,219.95 L775.66,218.37 L777.0,218.1 L779.0,218.72 L777.9,220.5 L777.29,219.0 L779.18,219.08 L778.64,217.78 L779.54,216.81 L778.94,215.64 L779.87,214.69 L779.27,213.51 L779.95,212.52 L780.11,211.62 L781.23,211.29 L780.61,209.79 L781.75,208.97 L781.07,207.62 L782.29,206.67 L781.62,205.28 L782.75,204.26 L782.7,203.0 L782.26,204.28 L784.43,204.82 L783.6,206.2 L783.22,204.91 L784.79,204.23 L783.44,202.64 L786.07,202.25 L784.17,200.18 L786.76,199.77 L785.13,198.32 L787.01,197.5 L785.29,196.04 L786.5,195.1 L787.05,196.12 L785.83,197.32 L787.24,198.26 L785.98,199.45 L787.37,200.4 L786.23,201.58 L788.42,201.7 L787.02,203.72 L789.36,204.01 L787.79,205.54 L789.5,206.46 L789.0,207.8 L787.79,206.3 L791.28,205.77 L788.67,203.98 L790.61,203.13 L789.15,201.43 L791.81,200.68 L789.87,198.86 L793.06,198.6 L790.0,196.48 L793.28,196.33 L790.71,194.18 L792.8,194.3 L794.63,194.27 L793.09,196.34 L795.12,196.68 L793.17,198.38 L796.28,198.65 L793.63,200.43 L795.79,201.17 L794.65,202.52 L796.54,203.31 L795.7,204.6 L794.33,202.91 L797.52,202.28 L795.41,200.43 L798.01,199.99 L795.82,198.38 L797.96,197.85 L797.6,196.7 L797.18,197.9 L799.22,198.69 L796.96,200.19 L799.71,200.87 L797.5,202.36 L800.14,202.2 L801.18,202.33 L800.4,200.7 L799.19,202.59 L802.08,202.7 L801.36,204.85 L801.62,202.5 L803.03,201.49 L802.31,200.18 L803.51,199.14 L802.4,197.78 L804.29,196.84 L802.8,195.5 L804.48,194.55 L803.25,193.26 L804.79,192.3 L803.18,190.97 L804.79,190.01 L803.77,188.75 L805.43,187.9 L803.47,186.5 L805.57,185.74 L803.79,184.37 L805.64,183.56 L805.2,182.4 L804.63,183.57 L805.95,184.47 L804.91,185.7 L806.45,186.58 L805.02,187.86 L806.1,188.8 L808.09,188.22 L806.2,186.02 L807.67,185.32 L806.7,184.07 L808.19,183.09 L807.08,181.82 L808.17,180.81 L807.34,179.57 L808.85,178.6 L807.05,177.05 L809.36,176.28 L807.64,174.67 L809.0,173.7 L809.77,174.68 L808.37,175.96 L809.89,176.84 L809.27,178.01 L810.4,178.94 L809.9,180.1 L809.69,178.91 L810.92,177.91 L809.59,176.58 L811.25,175.63 L810.28,174.34 L811.71,173.36 L810.9,172.1 L810.78,173.26 L811.52,174.35 L810.61,175.59 L811.52,176.66 L810.85,177.87 L811.78,178.94 L810.98,180.17 L812.14,181.22 L811.8,182.4 L811.13,181.22 L813.33,180.49 L811.03,179.05 L813.19,178.31 L812.02,177.05 L813.97,176.29 L811.94,174.86 L813.82,173.93 L812.74,172.66 L813.87,171.65 L812.69,170.37 L813.94,169.37 L813.31,168.16 L814.48,167.23 L813.27,165.95 L814.2,165.0 L814.64,166.01 L814.29,167.12 L814.88,168.11 L814.49,169.23 L815.55,170.16 L814.49,171.36 L815.66,172.29 L815.0,173.49 L816.22,174.39 L814.98,175.67 L816.65,176.51 L815.7,177.75 L816.71,178.61 L815.86,179.98 L817.56,180.61 L818.19,180.58 L817.36,178.94 L817.36,180.62 L819.8,181.37 L817.9,182.95 L819.26,183.91 L817.97,185.43 L820.3,185.87 L818.59,187.58 L821.08,187.99 L818.83,189.78 L822.01,190.03 L819.71,191.84 L822.73,192.43 L820.76,194.07 L822.67,194.89 L821.27,196.37 L823.81,196.81 L821.59,198.58 L824.38,199.15 L821.54,200.98 L824.58,201.56 L823.6,203.0 L822.53,201.38 L825.01,200.59 L823.2,198.8 L825.28,197.98 L824.24,196.63 L825.74,195.6 L824.4,194.22 L825.68,193.16 L825.05,191.86 L825.97,190.76 L824.96,189.52 L826.73,188.75 L825.6,187.47 L826.99,186.63 L825.52,185.29 L827.15,184.5 L825.68,183.07 L827.87,182.37 L826.68,180.98 L828.99,180.3 L826.44,178.65 L829.3,178.1 L827.42,176.59 L828.88,175.76 L827.95,174.45 L830.21,173.79 L828.07,171.87 L829.5,170.8 L830.24,171.89 L829.3,173.1 L830.1,174.19 L829.65,175.37 L830.11,176.47 L829.86,177.64 L830.35,178.74 L829.97,179.92 L830.69,181.01 L830.35,182.24 L830.97,183.33 L830.51,184.57 L831.49,185.62 L830.66,186.91 L831.64,187.95 L831.18,189.26 L832.13,190.36 L831.32,191.73 L832.28,192.83 L832.01,194.11 L832.64,195.26 L832.26,196.38 L832.84,197.38 L832.38,198.49 L833.19,199.46 L832.82,200.57 L833.1,201.6 L833.82,200.62 L833.16,199.36 L834.2,198.45 L833.73,197.23 L834.64,196.29 L833.92,195.09 L834.65,194.09 L834.27,192.97 L835.03,191.97 L834.41,190.83 L835.13,189.82 L834.61,188.4 L836.02,187.52 L835.19,185.95 L836.51,187.82 L836.61,185.79 L838.23,184.99 L837.48,183.62 L838.2,182.6 L839.05,183.53 L838.12,184.78 L839.11,185.69 L838.62,186.85 L839.7,187.75 L838.52,189.04 L840.55,189.83 L839.09,191.59 L841.32,192.22 L839.94,193.8 L841.47,194.83 L840.32,196.23 L841.62,197.29 L840.39,198.7 L841.4,199.8 L842.2,198.79 L841.07,197.51 L842.61,196.61 L840.68,195.2 L843.05,194.42 L841.28,193.0 L843.11,191.97 L842.12,190.66 L843.27,189.56 L842.02,188.23 L842.9,187.1 L843.28,188.27 L842.93,189.55 L843.89,190.63 L843.26,191.96 L844.22,193.04 L844.0,194.3 L843.48,192.83 L844.97,191.97 L844.55,190.53 L845.81,189.94 L845.49,188.76 L846.66,188.19 L845.97,186.77 L847.5,185.93 L846.68,184.57 L847.55,183.58 L847.28,182.32 L848.66,181.92 L848.26,180.44 L849.4,179.9 L849.97,180.91 L849.19,182.19 L850.64,183.02 L849.59,184.36 L851.07,185.18 L850.22,186.57 L851.49,187.61 L850.8,188.94 L851.75,190.02 L851.06,191.35 L851.6,192.5 L852.03,191.33 L851.18,190.04 L852.16,188.92 L851.71,187.66 L852.93,186.57 L851.7,185.24 L853.26,184.64 L852.02,183.09 L854.37,182.99 L853.27,181.22 L854.82,180.34 L853.99,178.75 L855.38,178.21 L854.69,176.88 L856.28,176.48 L855.49,174.9 L857.17,174.69 L857.61,173.27 L857.92,174.61 L859.36,174.99 L858.6,176.67 L860.21,177.49 L859.37,179.06 L860.66,179.73 L860.11,181.32 L861.78,181.8 L860.63,183.28 L862.46,184.02 L861.19,185.52 L863.76,186.11 L861.61,188.07 L863.71,188.74 L863.02,190.06 L864.2,190.95 L863.06,192.3 L864.55,193.12 L863.67,194.43 L865.31,195.39 L863.57,196.9 L865.45,197.86 L864.1,199.31 L865.98,200.27 L865.05,201.65 L866.31,202.7 L865.19,204.08 L866.14,205.17 L865.65,206.46 L866.45,207.57 L866.4,208.8 L866.08,207.66 L867.25,206.78 L866.45,205.56 L867.39,204.64 L866.74,203.45 L867.81,202.55 L867.5,201.31 L868.2,200.21 L867.81,198.96 L868.38,197.85 L867.97,196.6 L868.57,195.49 L868.25,194.25 L869.46,193.25 L869.03,191.81 L870.21,190.86 L869.72,189.62 L870.34,188.65 L869.86,187.48 L870.78,186.56 L870.45,185.42 L871.27,184.48 L870.66,183.17 L871.6,182.21 L871.13,180.9 L872.4,180.02 L871.71,178.52 L873.0,178.0 L874.0,178.98 L873.11,180.41 L874.46,181.3 L873.66,182.7 L875.2,183.21 L874.42,184.53 L875.7,185.08 L874.7,186.59 L876.42,187.36 L875.65,188.74 L876.91,189.63 L875.93,191.19 L877.52,192.02 L876.74,193.57 L877.82,194.5 L877.21,195.77 L878.28,196.78 L878.0,198.0 L877.97,196.85 L878.31,195.73 L878.13,194.57 L878.62,193.47 L878.28,192.29 L878.73,191.19 L878.53,190.02 L879.02,188.92 L878.54,187.75 L880.33,187.43 L879.1,185.87 L880.77,185.51 L880.25,184.04 L882.55,184.02 L879.92,181.9 L883.46,182.29 L881.25,180.33 L883.76,180.24 L882.4,178.62 L884.65,178.48 L882.72,176.64 L884.2,176.2 L885.59,176.59 L885.3,178.0 L884.09,176.46 L887.04,176.61 L885.36,174.88 L886.8,177.06 L886.9,174.6 L888.6,174.4 L890.47,175.16 L887.74,176.95 L890.71,177.47 L889.6,178.9 L889.26,177.76 L890.88,176.96 L889.49,175.64 L891.27,174.86 L890.15,173.59 L891.34,172.71 L890.47,171.45 L891.23,170.38 L890.29,169.17 L891.69,168.15 L890.79,166.95 L892.01,165.91 L891.03,164.7 L891.76,163.63 L891.18,162.49 L891.74,161.43 L891.35,160.31 L891.93,159.26 L891.45,158.12 L892.2,157.08 L891.48,155.94 L892.56,154.92 L891.83,153.77 L892.56,152.73 L890.87,151.41 L893.89,150.68 L891.72,149.29 L893.82,148.44 L892.9,147.2 L892.14,148.62 L894.63,149.43 L892.51,151.11 L895.24,151.69 L892.89,153.29 L894.92,154.01 L893.56,155.41 L896.04,156.03 L894.27,157.53 L896.65,157.6 L894.88,159.37 L896.52,159.97 L895.25,161.29 L896.93,162.1 L895.85,163.38 L897.31,164.23 L895.9,165.57 L897.73,166.36 L896.1,167.81 L899.02,168.34 L896.45,169.99 L899.24,170.55 L897.14,172.2 L899.5,172.29 L898.03,173.93 L900.3,174.46 L899.14,176.07 L901.74,176.64 L899.62,178.29 L901.44,179.15 L899.89,180.5 L901.46,181.4 L900.9,182.6 L899.77,181.11 L903.26,180.49 L900.83,178.75 L902.71,178.3 L901.1,176.6 L902.7,176.2 L903.53,176.91 L902.94,178.2 L904.46,178.63 L903.28,180.24 L905.26,180.98 L904.04,182.49 L905.96,183.25 L904.93,184.66 L906.37,185.04 L905.45,186.75 L907.37,187.47 L906.14,189.16 L907.82,189.96 L907.46,191.38 L908.65,192.33 L907.48,193.77 L909.04,194.6 L908.05,195.94 L909.56,196.78 L908.21,198.2 L910.26,198.59 L909.74,200.14 L911.17,200.5 L910.15,201.96 L911.84,202.32 L911.29,203.65 L911.73,204.76 L911.53,205.92 L912.03,207.03 L911.63,208.2 L912.44,209.29 L911.68,210.49 L912.1,211.6 L912.66,210.45 L911.91,209.24 L912.6,208.1 L911.5,206.87 L912.7,205.76 L912.05,204.55 L912.5,203.4" fill="none" stroke="#002060" stroke-width="2.6" stroke-linejoin="round" stroke-linecap="round"/>
<!-- bands -->
<rect x="56.2" y="77.8" width="19.8" height="274.0" fill="#00B050" fill-opacity="0.5"/>
<rect x="235.8" y="81.1" width="26.2" height="272.6" fill="#00B050" fill-opacity="0.5"/>
<rect x="302.9" y="78.7" width="19.5" height="273.0" fill="#00B050" fill-opacity="0.5"/>
<rect x="438" y="78.7" width="34.0" height="274.0" fill="#00B050" fill-opacity="0.5"/>
<rect x="740.4" y="80" width="13.4" height="272.6" fill="#00B050" fill-opacity="0.5"/>
<rect x="893.3" y="80" width="18.7" height="272.6" fill="#00B050" fill-opacity="0.5"/>

<!-- title -->
<g filter="url(#soft)">
<text x="98.9" y="35.7" font-size="23.4" font-weight="bold" fill="#002060" stroke="#002060" stroke-width="0.35" textLength="85.3" lengthAdjust="spacingAndGlyphs">Silver's</text>
<text x="191.1" y="35.7" font-size="23.4" font-weight="bold" fill="#002060" stroke="#002060" stroke-width="0.35" textLength="154.4" lengthAdjust="spacingAndGlyphs">Performance</text>
<text x="352.2" y="35.7" font-size="23.4" font-weight="bold" fill="#002060" stroke="#002060" stroke-width="0.35" textLength="60.4" lengthAdjust="spacingAndGlyphs">After</text>
<text x="419.6" y="35.7" font-size="23.4" font-weight="bold" fill="#002060" stroke="#002060" stroke-width="0.35" textLength="73.0" lengthAdjust="spacingAndGlyphs">Major</text>
<text x="500.3" y="35.7" font-size="23.4" font-weight="bold" fill="#002060" stroke="#002060" stroke-width="0.35" textLength="69.9" lengthAdjust="spacingAndGlyphs">Drops</text>
<text x="577.6" y="35.7" font-size="23.4" font-weight="bold" fill="#002060" stroke="#002060" stroke-width="0.35" textLength="21.2" lengthAdjust="spacingAndGlyphs">in</text>
<text x="607.1" y="35.7" font-size="23.4" font-weight="bold" fill="#002060" stroke="#002060" stroke-width="0.35" textLength="136.5" lengthAdjust="spacingAndGlyphs">Gold/Silver</text>
<text x="750.5" y="35.7" font-size="23.4" font-weight="bold" fill="#002060" stroke="#002060" stroke-width="0.35" textLength="61.0" lengthAdjust="spacingAndGlyphs">Ratio</text>
<text x="391.3" y="60.3" font-size="14.6" fill="#1E3A6A" textLength="129.4" lengthAdjust="spacingAndGlyphs">(1997 to present)</text>
<text x="15.8" y="57.8" font-size="16.4" font-weight="bold" fill="#1E3A6A" textLength="39.6" lengthAdjust="spacingAndGlyphs">Ratio</text>
<text x="18.8" y="318.8" font-size="16.6" font-weight="bold" fill="#1E3A6A" textLength="18.4" lengthAdjust="spacingAndGlyphs">20</text>
<text x="18.8" y="279.7" font-size="16.6" font-weight="bold" fill="#1E3A6A" textLength="18.4" lengthAdjust="spacingAndGlyphs">40</text>
<text x="18.8" y="240.7" font-size="16.6" font-weight="bold" fill="#1E3A6A" textLength="18.4" lengthAdjust="spacingAndGlyphs">60</text>
<text x="18.8" y="201.6" font-size="16.6" font-weight="bold" fill="#1E3A6A" textLength="18.4" lengthAdjust="spacingAndGlyphs">80</text>
<text x="9.6" y="162.5" font-size="16.6" font-weight="bold" fill="#1E3A6A" textLength="27.6" lengthAdjust="spacingAndGlyphs">100</text>
<text x="9.6" y="123.4" font-size="16.6" font-weight="bold" fill="#1E3A6A" textLength="27.6" lengthAdjust="spacingAndGlyphs">120</text>
<text x="9.6" y="84.3" font-size="16.6" font-weight="bold" fill="#1E3A6A" textLength="27.6" lengthAdjust="spacingAndGlyphs">140</text>
<rect x="32.2" y="351.8" width="4.8" height="2" fill="#1E3A6A"/>
<text transform="translate(61.8,371.5) rotate(-52)" text-anchor="end" font-size="14" font-weight="bold" fill="#1E3A6A" textLength="31.6" lengthAdjust="spacingAndGlyphs">1997</text>
<text transform="translate(91.8,371.5) rotate(-52)" text-anchor="end" font-size="14" font-weight="bold" fill="#1E3A6A" textLength="31.6" lengthAdjust="spacingAndGlyphs">1998</text>
<text transform="translate(121.9,371.5) rotate(-52)" text-anchor="end" font-size="14" font-weight="bold" fill="#1E3A6A" textLength="31.6" lengthAdjust="spacingAndGlyphs">1999</text>
<text transform="translate(151.9,371.5) rotate(-52)" text-anchor="end" font-size="14" font-weight="bold" fill="#1E3A6A" textLength="31.6" lengthAdjust="spacingAndGlyphs">2000</text>
<text transform="translate(181.9,371.5) rotate(-52)" text-anchor="end" font-size="14" font-weight="bold" fill="#1E3A6A" textLength="31.6" lengthAdjust="spacingAndGlyphs">2001</text>
<text transform="translate(212.0,371.5) rotate(-52)" text-anchor="end" font-size="14" font-weight="bold" fill="#1E3A6A" textLength="31.6" lengthAdjust="spacingAndGlyphs">2002</text>
<text transform="translate(242.0,371.5) rotate(-52)" text-anchor="end" font-size="14" font-weight="bold" fill="#1E3A6A" textLength="31.6" lengthAdjust="spacingAndGlyphs">2003</text>
<text transform="translate(272.0,371.5) rotate(-52)" text-anchor="end" font-size="14" font-weight="bold" fill="#1E3A6A" textLength="31.6" lengthAdjust="spacingAndGlyphs">2004</text>
<text transform="translate(302.1,371.5) rotate(-52)" text-anchor="end" font-size="14" font-weight="bold" fill="#1E3A6A" textLength="31.6" lengthAdjust="spacingAndGlyphs">2005</text>
<text transform="translate(332.1,371.5) rotate(-52)" text-anchor="end" font-size="14" font-weight="bold" fill="#1E3A6A" textLength="31.6" lengthAdjust="spacingAndGlyphs">2006</text>
<text transform="translate(362.1,371.5) rotate(-52)" text-anchor="end" font-size="14" font-weight="bold" fill="#1E3A6A" textLength="31.6" lengthAdjust="spacingAndGlyphs">2007</text>
<text transform="translate(392.2,371.5) rotate(-52)" text-anchor="end" font-size="14" font-weight="bold" fill="#1E3A6A" textLength="31.6" lengthAdjust="spacingAndGlyphs">2008</text>
<text transform="translate(422.2,371.5) rotate(-52)" text-anchor="end" font-size="14" font-weight="bold" fill="#1E3A6A" textLength="31.6" lengthAdjust="spacingAndGlyphs">2009</text>
<text transform="translate(452.3,371.5) rotate(-52)" text-anchor="end" font-size="14" font-weight="bold" fill="#1E3A6A" textLength="31.6" lengthAdjust="spacingAndGlyphs">2010</text>
<text transform="translate(482.3,371.5) rotate(-52)" text-anchor="end" font-size="14" font-weight="bold" fill="#1E3A6A" textLength="31.6" lengthAdjust="spacingAndGlyphs">2011</text>
<text transform="translate(512.3,371.5) rotate(-52)" text-anchor="end" font-size="14" font-weight="bold" fill="#1E3A6A" textLength="31.6" lengthAdjust="spacingAndGlyphs">2012</text>
<text transform="translate(542.4,371.5) rotate(-52)" text-anchor="end" font-size="14" font-weight="bold" fill="#1E3A6A" textLength="31.6" lengthAdjust="spacingAndGlyphs">2013</text>
<text transform="translate(572.4,371.5) rotate(-52)" text-anchor="end" font-size="14" font-weight="bold" fill="#1E3A6A" textLength="31.6" lengthAdjust="spacingAndGlyphs">2014</text>
<text transform="translate(602.4,371.5) rotate(-52)" text-anchor="end" font-size="14" font-weight="bold" fill="#1E3A6A" textLength="31.6" lengthAdjust="spacingAndGlyphs">2015</text>
<text transform="translate(632.5,371.5) rotate(-52)" text-anchor="end" font-size="14" font-weight="bold" fill="#1E3A6A" textLength="31.6" lengthAdjust="spacingAndGlyphs">2016</text>
<text transform="translate(662.5,371.5) rotate(-52)" text-anchor="end" font-size="14" font-weight="bold" fill="#1E3A6A" textLength="31.6" lengthAdjust="spacingAndGlyphs">2017</text>
<text transform="translate(692.5,371.5) rotate(-52)" text-anchor="end" font-size="14" font-weight="bold" fill="#1E3A6A" textLength="31.6" lengthAdjust="spacingAndGlyphs">2018</text>
<text transform="translate(722.6,371.5) rotate(-52)" text-anchor="end" font-size="14" font-weight="bold" fill="#1E3A6A" textLength="31.6" lengthAdjust="spacingAndGlyphs">2019</text>
<text transform="translate(752.6,371.5) rotate(-52)" text-anchor="end" font-size="14" font-weight="bold" fill="#1E3A6A" textLength="31.6" lengthAdjust="spacingAndGlyphs">2020</text>
<text transform="translate(782.6,371.5) rotate(-52)" text-anchor="end" font-size="14" font-weight="bold" fill="#1E3A6A" textLength="31.6" lengthAdjust="spacingAndGlyphs">2021</text>
<text transform="translate(812.7,371.5) rotate(-52)" text-anchor="end" font-size="14" font-weight="bold" fill="#1E3A6A" textLength="31.6" lengthAdjust="spacingAndGlyphs">2022</text>
<text transform="translate(842.7,371.5) rotate(-52)" text-anchor="end" font-size="14" font-weight="bold" fill="#1E3A6A" textLength="31.6" lengthAdjust="spacingAndGlyphs">2023</text>
<text transform="translate(872.7,371.5) rotate(-52)" text-anchor="end" font-size="14" font-weight="bold" fill="#1E3A6A" textLength="31.6" lengthAdjust="spacingAndGlyphs">2024</text>
<text transform="translate(902.8,371.5) rotate(-52)" text-anchor="end" font-size="14" font-weight="bold" fill="#1E3A6A" textLength="31.6" lengthAdjust="spacingAndGlyphs">2025</text>
<text x="60.6" y="112.6" font-size="14" font-weight="bold" fill="#1E3A6A" textLength="74.1" lengthAdjust="spacingAndGlyphs">Ratio: -50%</text>
<text x="60.6" y="131.8" font-size="14" font-weight="bold" fill="#1E3A6A" textLength="62.3" lengthAdjust="spacingAndGlyphs">Gold: -9%</text>
<text x="60.6" y="151.6" font-size="14" font-weight="bold" fill="#1E3A6A" textLength="78.5" lengthAdjust="spacingAndGlyphs">Silver: +82%</text>
<text x="188.5" y="115.9" font-size="14" font-weight="bold" fill="#1E3A6A" textLength="73.9" lengthAdjust="spacingAndGlyphs">Ratio: -38%</text>
<text x="188.5" y="134.7" font-size="14" font-weight="bold" fill="#1E3A6A" textLength="73.1" lengthAdjust="spacingAndGlyphs">Gold: +14%</text>
<text x="188.5" y="154.6" font-size="14" font-weight="bold" fill="#1E3A6A" textLength="79" lengthAdjust="spacingAndGlyphs">Silver: +85%</text>
<text x="313.4" y="115.9" font-size="14" font-weight="bold" fill="#1E3A6A" textLength="74" lengthAdjust="spacingAndGlyphs">Ratio: -32%</text>
<text x="313.4" y="134.7" font-size="14" font-weight="bold" fill="#1E3A6A" textLength="73.5" lengthAdjust="spacingAndGlyphs">Gold: +44%</text>
<text x="313.4" y="154.6" font-size="14" font-weight="bold" fill="#1E3A6A" textLength="86.7" lengthAdjust="spacingAndGlyphs">Silver: +112%</text>
<text x="457.9" y="117.1" font-size="14" font-weight="bold" fill="#1E3A6A" textLength="74" lengthAdjust="spacingAndGlyphs">Ratio: -55%</text>
<text x="457.9" y="135.7" font-size="14" font-weight="bold" fill="#1E3A6A" textLength="73.6" lengthAdjust="spacingAndGlyphs">Gold: +42%</text>
<text x="457.9" y="155.6" font-size="14" font-weight="bold" fill="#1E3A6A" textLength="86.8" lengthAdjust="spacingAndGlyphs">Silver: +218%</text>
<text x="681.8" y="252.1" font-size="14" font-weight="bold" fill="#1E3A6A" textLength="73.8" lengthAdjust="spacingAndGlyphs">Ratio: -45%</text>
<text x="681.8" y="271" font-size="14" font-weight="bold" fill="#1E3A6A" textLength="73.2" lengthAdjust="spacingAndGlyphs">Gold: +28%</text>
<text x="681.8" y="290.5" font-size="14" font-weight="bold" fill="#1E3A6A" textLength="86.4" lengthAdjust="spacingAndGlyphs">Silver: +132%</text>
<text x="823.2" y="231.4" font-size="14" font-weight="bold" fill="#1E3A6A" textLength="73.9" lengthAdjust="spacingAndGlyphs">Ratio: -29%</text>
<text x="823.2" y="250.2" font-size="14" font-weight="bold" fill="#1E3A6A" textLength="72.8" lengthAdjust="spacingAndGlyphs">Gold: +27%</text>
<text x="823.2" y="269.6" font-size="14" font-weight="bold" fill="#1E3A6A" textLength="78.7" lengthAdjust="spacingAndGlyphs">Silver: +79%</text>

<text x="448.3" y="419.7" font-size="16.4" fill="#1E3A6A" textLength="34.6" lengthAdjust="spacingAndGlyphs">Date</text>
<text x="776" y="419.5" font-size="13.2" fill="#1E3A6A" textLength="129.6" lengthAdjust="spacingAndGlyphs">Source: LBMA, WGC</text>
</g>
<!-- watermark -->
<text x="809.8" y="416.9" font-size="29.6" fill="#b89a80" fill-opacity="0.75" textLength="97.5" lengthAdjust="spacing">FX678</text>
<text x="808.8" y="415.9" font-size="29.6" fill="#dce9f8" textLength="97.5" lengthAdjust="spacing">FX678</text>
<!-- masked logo -->
<g filter="url(#sb)" opacity="0.42">
<rect x="829" y="12" width="75" height="38" rx="12" ry="12" fill="#000"/>
<rect x="825" y="46" width="84.5" height="34" rx="15" ry="15" fill="#000"/>
</g>
<g filter="url(#sh)">
<rect x="824.3" y="5" width="84" height="40" rx="13.5" ry="13.5" fill="#ffffff"/>
<rect x="820.2" y="39.8" width="93.8" height="34.7" rx="16.5" ry="16.5" fill="#ffffff"/>
</g>
</svg>
</body></html>
